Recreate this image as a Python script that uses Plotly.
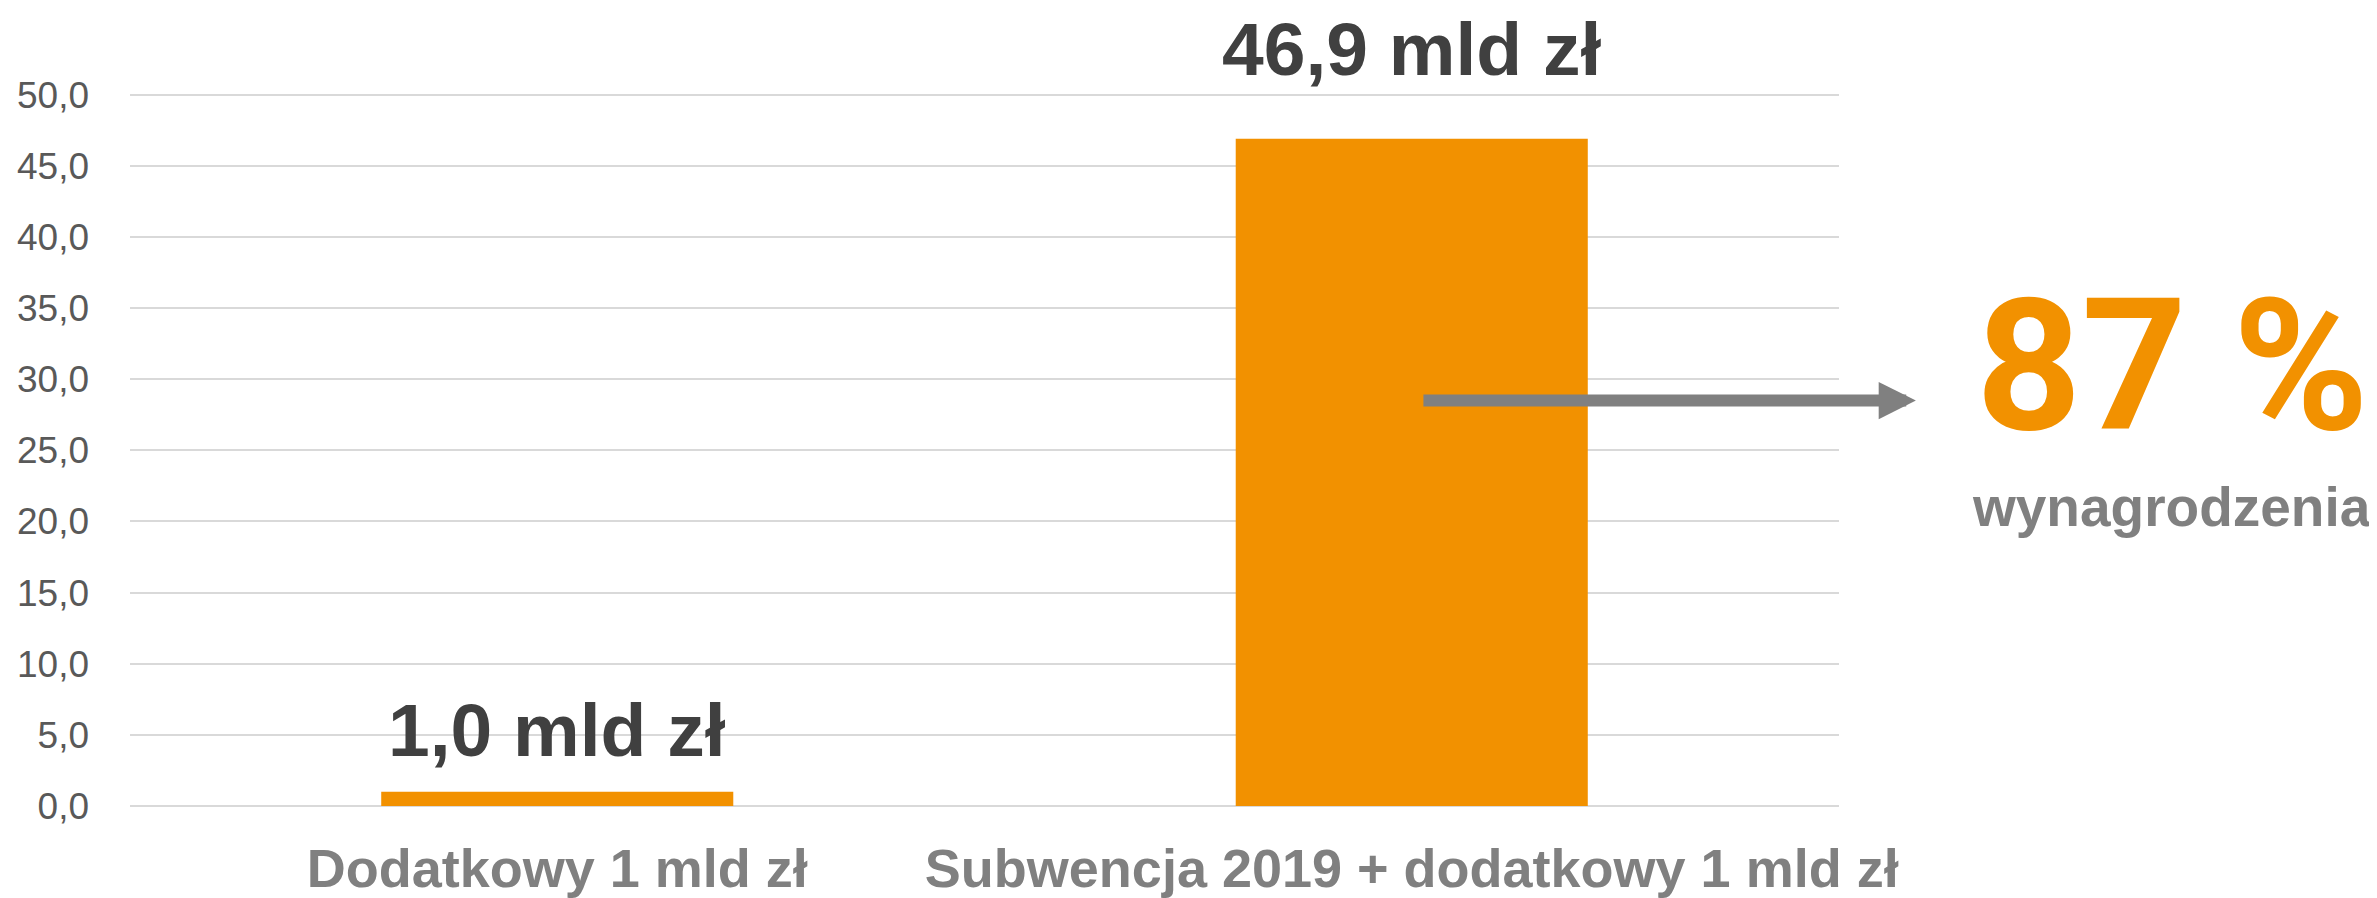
import plotly.graph_objects as go

categories = ["Dodatkowy 1 mld zł", "Subwencja 2019 + dodatkowy 1 mld zł"]
values = [1.0, 46.9]
value_labels = ["1,0 mld zł", "46,9 mld zł"]
tick_vals = [0, 5, 10, 15, 20, 25, 30, 35, 40, 45, 50]
tick_text = ["0,0", "5,0", "10,0", "15,0", "20,0", "25,0", "30,0", "35,0", "40,0", "45,0", "50,0"]
share_text = "87 %"
share_caption = "wynagrodzenia"
arrow_level = 28.5
share_level = 30.9
caption_level = 21.0

ORANGE = "#F29100"
GRID = "#D9D9D9"
FONT = "Liberation Sans"

fig = go.Figure()
fig.add_trace(go.Bar(x=categories, y=values, marker=dict(color=ORANGE, line=dict(width=0)),
                     hoverinfo="skip"))

label_shifts = [18, 46]
for c, v, t, s in zip(categories, values, value_labels, label_shifts):
    fig.add_annotation(x=c, y=v, text="<b>%s</b>" % t, showarrow=False, yanchor="bottom",
                       yshift=s, font=dict(family=FONT, size=75, color="#404040"))

# arrow towards share text
fig.add_annotation(x=1.045, xref="paper", y=arrow_level, yref="y", ax=-494, ay=0,
                   text="", showarrow=True, arrowhead=2, arrowwidth=12, arrowsize=0.62,
                   arrowcolor="#808080")
fig.add_annotation(x=1.195, xref="paper", y=share_level, yref="y", text="<b>%s</b>" % share_text,
                   showarrow=False, font=dict(family="Roboto", size=184, color=ORANGE),
                   xanchor="center", yanchor="middle")
fig.add_annotation(x=1.1946, xref="paper", y=caption_level, yref="y", text="<b>%s</b>" % share_caption,
                   showarrow=False, font=dict(family=FONT, size=55, color="#808080"),
                   xanchor="center", yanchor="middle")

# page body has an 8px margin, so the figure is 8px smaller than the window
fig.update_layout(
    width=2369, height=890,
    margin=dict(l=122, r=538, t=85, b=92),
    paper_bgcolor="white", plot_bgcolor="white",
    bargap=0.588, showlegend=False,
)
fig.update_xaxes(showgrid=False, showline=False, ticks="", automargin=False,
                 tickfont=dict(family=FONT, size=54, color="#808080"),
                 ticklabelstandoff=26,
                 tickvals=categories, ticktext=["<b>%s</b>" % c for c in categories])
fig.update_yaxes(range=[0, 50.12], tickvals=tick_vals, ticktext=tick_text, automargin=False,
                 showgrid=True, gridcolor=GRID, gridwidth=2,
                 zeroline=True, zerolinecolor=GRID, zerolinewidth=2,
                 showline=False, ticks="",
                 ticklabelstandoff=40,
                 tickfont=dict(family=FONT, size=37, color="#595959"))

fig.write_html("out.html")
